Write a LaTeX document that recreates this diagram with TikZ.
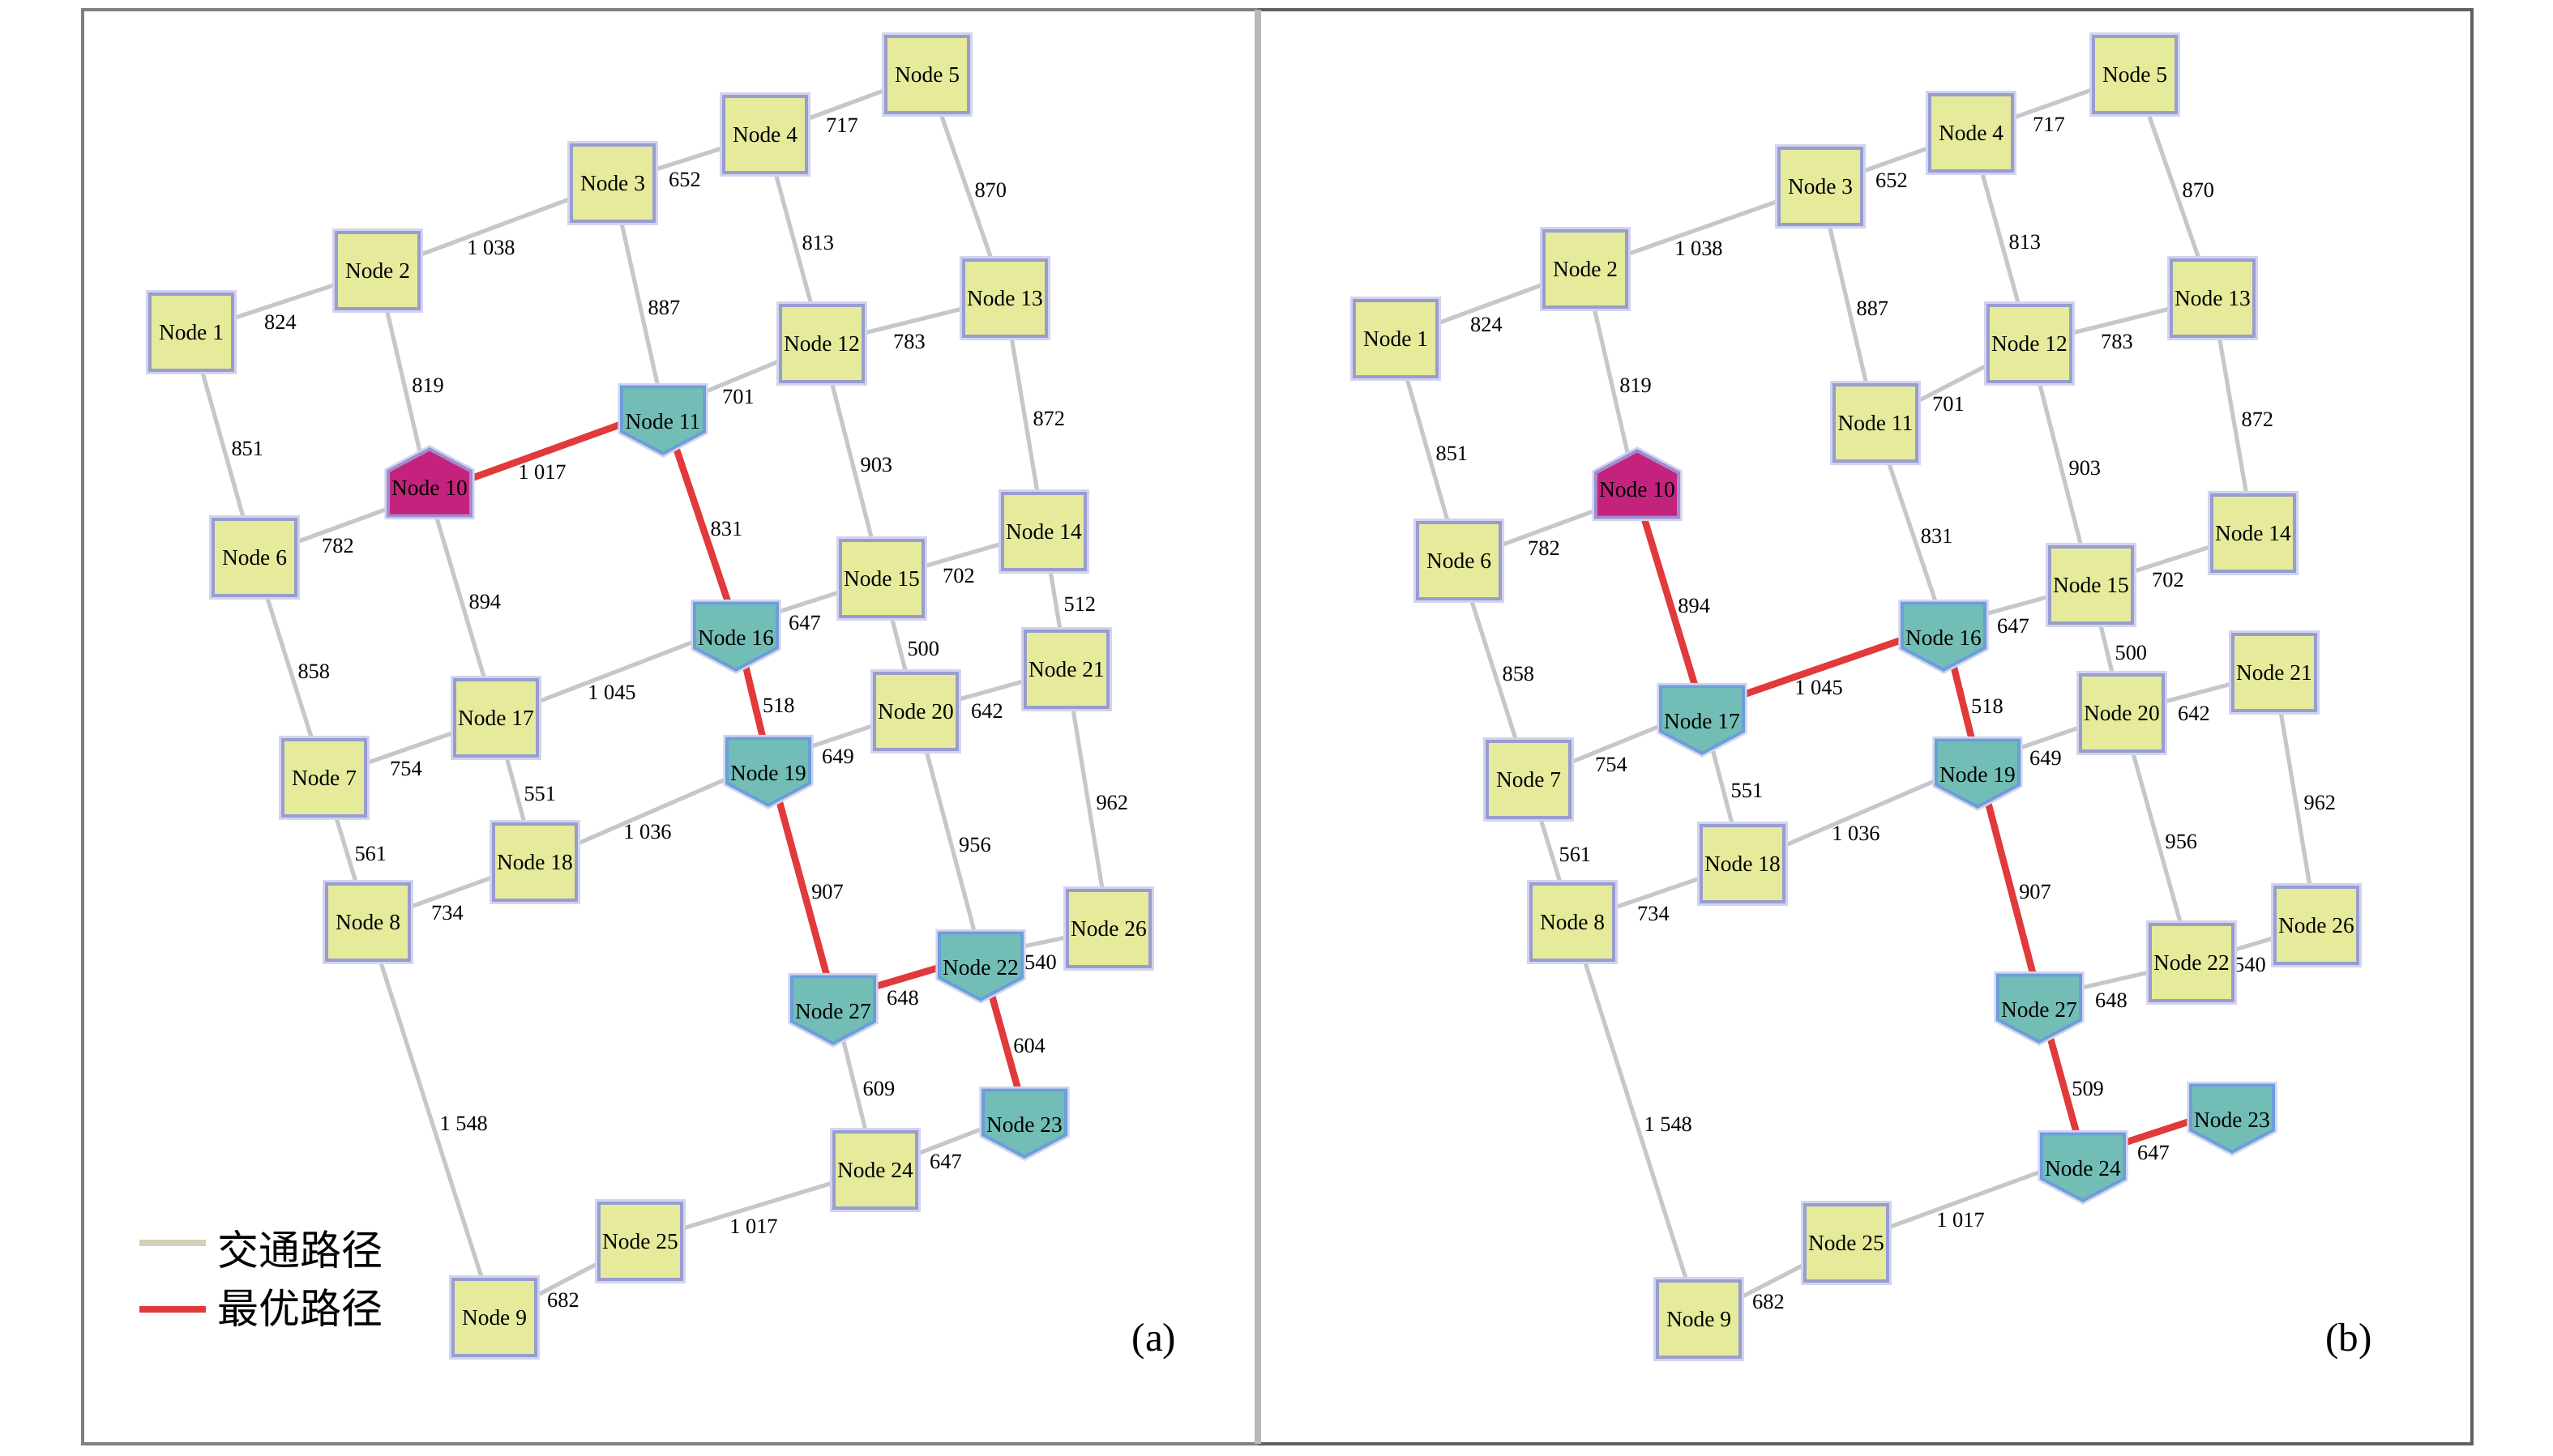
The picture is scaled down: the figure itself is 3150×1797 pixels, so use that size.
\documentclass[tikz,border=0pt]{standalone}
\usepackage{fontspec}
\setmainfont{Liberation Serif}
\newfontfamily\cjkfont{Noto Sans CJK SC}
\usetikzlibrary{shapes.symbols,backgrounds}

\definecolor{nodeyellow}{RGB}{230,234,155}
\definecolor{nodeedge}{RGB}{152,157,208}
\definecolor{nodehalo}{RGB}{210,212,238}
\definecolor{nodeteal}{RGB}{114,190,182}
\definecolor{tealedge}{RGB}{108,158,218}
\definecolor{nodemagenta}{RGB}{196,35,125}
\definecolor{magentaedge}{RGB}{160,140,208}
\definecolor{roadgray}{RGB}{198,199,204}
\definecolor{roadred}{RGB}{226,58,58}
\definecolor{legendbeige}{RGB}{212,207,184}
\definecolor{framegray}{RGB}{128,128,128}
\definecolor{framedark}{RGB}{96,96,100}
\definecolor{dividergray}{RGB}{184,184,184}

\newcommand\nodetxt{\fontsize{7.8}{9}\selectfont}
\newcommand\lbltxt{\fontsize{7.5}{9}\selectfont}
\newcommand\legtxt{\cjkfont\fontsize{14.5}{16}\selectfont}

\tikzset{
  crossnode/.style={rectangle, fill=nodeyellow, draw=nodeedge, line width=1.1pt,
    minimum width=1.02cm, minimum height=0.94cm, inner sep=0pt, font=\nodetxt,
    preaction={draw=nodehalo, line width=2.6pt}},
  pathnode/.style={signal, signal to=south, signal from=nowhere, signal pointer angle=124,
    fill=nodeteal, draw=tealedge, line width=1.1pt, minimum width=1.02cm, inner sep=0pt,
    text height=0.52cm, text depth=0.03cm, font=\nodetxt,
    preaction={draw=nodehalo, line width=2.6pt}},
  startnode/.style={pathnode, signal to=north, fill=nodemagenta, draw=magentaedge,
    text height=0.30cm, text depth=0.25cm},
  road/.style={draw=roadgray, line width=1.45pt},
  bestroad/.style={draw=roadred, line width=2.4pt},
  lbl/.style={font=\lbltxt, inner sep=1pt},
  lblb/.style={lbl, anchor=north, outer sep=3.8pt, xshift=-0.05cm},
  lblr/.style={lbl, anchor=west, outer sep=2pt, yshift=-0.05cm},
}

\begin{document}
\begin{tikzpicture}[x=0.01cm, y=-0.01cm]
\useasboundingbox (0,0) rectangle (3150,1797);

% Frame of the two panels
\draw[framegray, line width=1.4pt] (1552,12) -- (102,12) -- (102,1782) -- (1552,1782);
\draw[framedark, line width=1.4pt] (1552,12) -- (3050,12) -- (3050,1782) -- (1552,1782);
\draw[dividergray, line width=2.3pt] (1552,12) -- (1552,1782);

% Panel (a): nodes
\node[crossnode] (a1) at (236,410) {Node 1};
\node[crossnode] (a2) at (466,334) {Node 2};
\node[crossnode] (a3) at (756,226) {Node 3};
\node[crossnode] (a4) at (944,166) {Node 4};
\node[crossnode] (a5) at (1144,92) {Node 5};
\node[crossnode] (a6) at (314,688) {Node 6};
\node[crossnode] (a7) at (400,960) {Node 7};
\node[crossnode] (a8) at (454,1138) {Node 8};
\node[crossnode] (a9) at (610,1626) {Node 9};
\node[startnode] (a10) at (530,609) {Node 10};
\node[pathnode] (a11) at (818,505) {Node 11};
\node[crossnode] (a12) at (1014,424) {Node 12};
\node[crossnode] (a13) at (1240,368) {Node 13};
\node[crossnode] (a14) at (1288,656) {Node 14};
\node[crossnode] (a15) at (1088,714) {Node 15};
\node[pathnode] (a16) at (908,772) {Node 16};
\node[crossnode] (a17) at (612,886) {Node 17};
\node[crossnode] (a18) at (660,1064) {Node 18};
\node[pathnode] (a19) at (948,939) {Node 19};
\node[crossnode] (a20) at (1130,878) {Node 20};
\node[crossnode] (a21) at (1316,826) {Node 21};
\node[pathnode] (a22) at (1210,1179) {Node 22};
\node[pathnode] (a23) at (1264,1373) {Node 23};
\node[crossnode] (a24) at (1080,1444) {Node 24};
\node[crossnode] (a25) at (790,1532) {Node 25};
\node[crossnode] (a26) at (1368,1146) {Node 26};
\node[pathnode] (a27) at (1028,1233) {Node 27};

% Panel (b): nodes
\node[crossnode] (b1) at (1722,418) {Node 1};
\node[crossnode] (b2) at (1956,332) {Node 2};
\node[crossnode] (b3) at (2246,230) {Node 3};
\node[crossnode] (b4) at (2432,164) {Node 4};
\node[crossnode] (b5) at (2634,92) {Node 5};
\node[crossnode] (b6) at (1800,692) {Node 6};
\node[crossnode] (b7) at (1886,962) {Node 7};
\node[crossnode] (b8) at (1940,1138) {Node 8};
\node[crossnode] (b9) at (2096,1628) {Node 9};
\node[startnode] (b10) at (2020,611) {Node 10};
\node[crossnode] (b11) at (2314,522) {Node 11};
\node[crossnode] (b12) at (2504,424) {Node 12};
\node[crossnode] (b13) at (2730,368) {Node 13};
\node[crossnode] (b14) at (2780,658) {Node 14};
\node[crossnode] (b15) at (2580,722) {Node 15};
\node[pathnode] (b16) at (2398,772) {Node 16};
\node[pathnode] (b17) at (2100,875) {Node 17};
\node[crossnode] (b18) at (2150,1066) {Node 18};
\node[pathnode] (b19) at (2440,941) {Node 19};
\node[crossnode] (b20) at (2618,880) {Node 20};
\node[crossnode] (b21) at (2806,830) {Node 21};
\node[crossnode] (b22) at (2704,1188) {Node 22};
\node[pathnode] (b23) at (2754,1367) {Node 23};
\node[pathnode] (b24) at (2570,1427) {Node 24};
\node[crossnode] (b25) at (2278,1534) {Node 25};
\node[crossnode] (b26) at (2858,1142) {Node 26};
\node[pathnode] (b27) at (2516,1231) {Node 27};

\begin{scope}[on background layer]
% Panel (a): roads and best route
\foreach \s/\t/\w/\d in {1/2/824/b, 2/3/1 038/b, 3/4/652/b, 4/5/717/b, 5/13/870/r,
    4/12/813/r, 3/11/887/r, 12/13/783/b, 2/10/819/r, 11/12/701/b, 1/6/851/r,
    13/14/872/r, 12/15/903/r, 6/10/782/b, 15/14/702/b, 10/17/894/r, 16/15/647/b,
    14/21/512/r, 6/7/858/r, 15/20/500/r, 17/16/1 045/b, 20/21/642/b, 7/17/754/b,
    19/20/649/b, 17/18/551/r, 21/26/962/r, 7/8/561/r, 18/19/1 036/b, 20/22/956/r,
    8/18/734/b, 22/26/540/b, 27/24/609/r, 24/23/647/b, 8/9/1 548/r, 25/24/1 017/b,
    9/25/682/b}
  \draw[road] (a\s) -- node[lbl\d] {\w} (a\t);
\foreach \s/\t/\w/\d in {10/11/1 017/b, 11/16/831/r, 16/19/518/r, 19/27/907/r,
    27/22/648/b, 22/23/604/r}
  \draw[bestroad] (a\s) -- node[lbl\d] {\w} (a\t);

% Panel (b): roads and best route
\foreach \s/\t/\w/\d in {1/2/824/b, 2/3/1 038/b, 3/4/652/b, 4/5/717/b, 5/13/870/r,
    4/12/813/r, 3/11/887/r, 12/13/783/b, 2/10/819/r, 11/12/701/b, 1/6/851/r,
    13/14/872/r, 12/15/903/r, 6/10/782/b, 11/16/831/r, 15/14/702/b, 16/15/647/b,
    6/7/858/r, 15/20/500/r, 20/21/642/b, 7/17/754/b, 19/20/649/b, 17/18/551/r,
    21/26/962/r, 7/8/561/r, 18/19/1 036/b, 20/22/956/r, 8/18/734/b, 22/26/540/b,
    27/22/648/b, 8/9/1 548/r, 25/24/1 017/b, 9/25/682/b}
  \draw[road] (b\s) -- node[lbl\d] {\w} (b\t);
\foreach \s/\t/\w/\d in {10/17/894/r, 17/16/1 045/b, 16/19/518/r, 19/27/907/r,
    27/24/509/r, 24/23/647/b}
  \draw[bestroad] (b\s) -- node[lbl\d] {\w} (b\t);
\end{scope}

% Legend
\draw[legendbeige, line width=2.3pt] (172,1534) -- (254,1534);
\draw[roadred, line width=2.3pt] (172,1616) -- (254,1616);
\node[font=\legtxt, anchor=west, inner sep=0pt] (legroad) at (268,1542) {交通路径};
\node[font=\legtxt, anchor=west, inner sep=0pt] (legbest) at (268,1614) {最优路径};

% Panel tags
\node[font=\fontsize{14}{16}\selectfont] (taga) at (1424,1656) {(a)};
\node[font=\fontsize{14}{16}\selectfont] (tagb) at (2898,1656) {(b)};
\end{tikzpicture}
\end{document}
